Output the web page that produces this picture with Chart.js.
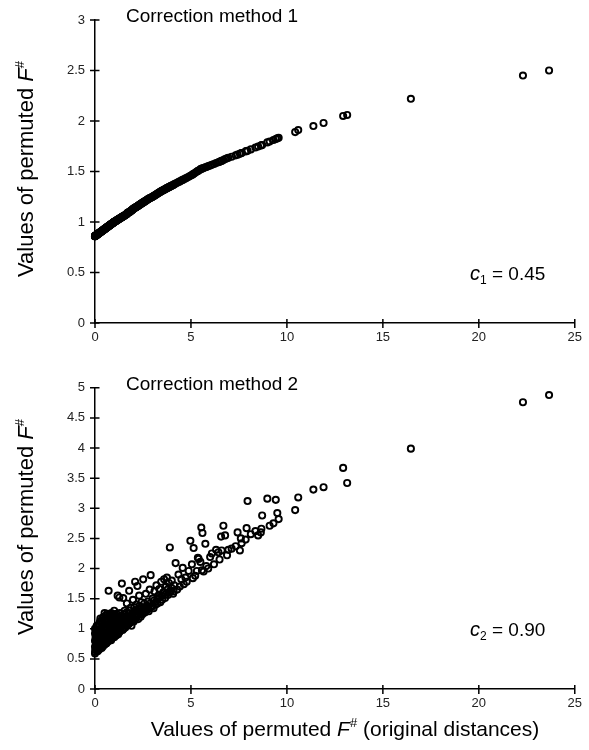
<!DOCTYPE html>
<html><head><meta charset="utf-8">
<script src="https://cdn.jsdelivr.net/npm/chart.js@4.4.0/dist/chart.umd.min.js"></script>
<style>
html,body{margin:0;padding:0;background:#fff;}
#wrap{position:relative;width:589px;height:750px;overflow:hidden;}
#c1{position:absolute;left:0;top:0;}
#c2{position:absolute;left:0;top:370px;}
</style></head><body>
<div id="wrap"><canvas id="c1" width="589" height="370"></canvas><canvas id="c2" width="589" height="380"></canvas></div>
<script>
// permuted F# values computed from the original distances (x)
const distances = [
0,0,0,0,0,0.02,0.03,0.05,0.06,0.08,
0.1,0.11,0.13,0.15,0.16,0.18,0.2,0.21,0.23,0.25,
0.27,0.29,0.3,0.32,0.34,0.36,0.38,0.4,0.42,0.44,
0.46,0.48,0.5,0.52,0.54,0.56,0.58,0.6,0.62,0.64,
0.66,0.68,0.7,0.71,0.73,0.75,0.77,0.8,0.82,0.84,
0.86,0.89,0.91,0.94,0.96,0.99,1.0,1.03,1.06,1.09,
1.12,1.15,1.18,1.21,1.24,1.27,1.3,1.33,1.36,1.4,
1.44,1.47,1.5,1.54,1.58,1.62,1.66,1.7,1.74,1.78,
1.82,1.86,1.9,1.94,1.98,2.02,2.06,2.09,2.13,2.17,
2.21,2.25,2.3,2.34,2.38,2.42,2.47,2.51,2.55,2.6,
2.65,2.7,2.75,2.8,2.85,2.9,2.95,3.0,3.05,3.1,
3.15,3.2,3.25,3.3,3.35,3.4,3.45,3.5,3.55,3.6,
3.65,3.7,3.75,3.8,3.85,3.9,3.95,4.0,4.07,4.13,
4.2,4.28,4.35,4.42,4.5,4.57,4.63,4.71,4.78,4.88,
4.97,5.05,5.1,5.14,5.22,5.31,5.36,5.4,5.49,5.54,
5.57,5.6,5.66,5.75,5.8,5.9,6.0,6.09,6.2,6.31,
6.43,6.49,6.57,6.6,6.69,6.78,6.88,6.95,7.12,7.33,
7.43,7.55,7.6,7.64,7.85,7.9,7.95,8.12,8.36,8.5,
8.64,8.67,8.71,8.98,9.1,9.3,9.42,9.5,9.57,10.43,
10.59,11.38,11.91,12.93,13.14,16.46,22.3,23.66,
0.15,0.35,0.45,0.55,0.79,0.92,1.0,1.07,1.16,1.38,
1.52,1.68,1.88,2.12,2.27,2.44,0.09,0.26,0.5,0.63,
0.01,0.04,0.07,0.12,0.14,0.17,0.19,0.22,0.24,0.28,
0.31,0.33,0.37,0.39,0.41,0.43,0.47,0.49,0.51,0.53,
0.57,0.59,0.61,0.63,0.65,0.67,0.69,0.72,0.74,0.76,
0.78,0.81,0.83,0.85,0.87,0.9,0.93,0.95,0.97,1.01,
1.04,1.08,1.1,1.13,1.17,1.2,1.23,1.26,1.29,1.32,
1.35,1.42,1.46,1.49,1.56,1.6,1.64,1.72,1.76,1.8,
1.84,1.92,1.96,2.0,2.04,2.08,2.15,2.19,2.23,2.32,
2.36,2.4,2.5,2.57,2.63,2.72,2.78,2.88,2.98,3.08,
3.18,3.28,3.38,3.48,3.58,3.68,3.78,3.88,3.98,4.1
];
const method1 = [
0.86,0.86,0.86,0.86,0.86,0.863,0.864,0.867,0.868,0.871,
0.874,0.875,0.878,0.881,0.882,0.885,0.888,0.889,0.892,0.895,
0.898,0.901,0.902,0.905,0.908,0.91,0.913,0.916,0.919,0.922,
0.924,0.927,0.93,0.933,0.936,0.938,0.941,0.944,0.947,0.95,
0.952,0.955,0.958,0.96,0.962,0.965,0.968,0.972,0.975,0.978,
0.98,0.985,0.987,0.992,0.994,0.999,1.0,1.004,1.007,1.011,
1.014,1.018,1.022,1.025,1.029,1.032,1.036,1.04,1.043,1.048,
1.053,1.056,1.06,1.065,1.07,1.075,1.08,1.09,1.093,1.097,
1.103,1.108,1.115,1.12,1.127,1.133,1.138,1.141,1.146,1.151,
1.156,1.161,1.168,1.172,1.178,1.183,1.189,1.194,1.199,1.205,
1.211,1.218,1.224,1.23,1.236,1.24,1.245,1.25,1.256,1.262,
1.268,1.274,1.28,1.286,1.292,1.298,1.304,1.31,1.315,1.32,
1.325,1.33,1.335,1.34,1.345,1.35,1.355,1.36,1.367,1.373,
1.38,1.388,1.395,1.402,1.41,1.417,1.423,1.431,1.438,1.448,
1.457,1.466,1.472,1.478,1.487,1.499,1.505,1.51,1.521,1.526,
1.53,1.53,1.535,1.542,1.545,1.553,1.56,1.567,1.575,1.583,
1.592,1.597,1.603,1.605,1.614,1.623,1.63,1.636,1.646,1.66,
1.667,1.676,1.68,1.683,1.699,1.703,1.706,1.719,1.737,1.748,
1.758,1.76,1.763,1.788,1.797,1.812,1.822,1.828,1.833,1.89,
1.91,1.95,1.98,2.05,2.06,2.22,2.45,2.5,
0.881,0.909,0.923,0.937,0.97,0.988,1.0,1.008,1.019,1.046,
1.062,1.085,1.112,1.145,1.164,1.185,0.872,0.896,0.93,0.948,
0.861,0.866,0.87,0.877,0.88,0.884,0.887,0.891,0.894,0.899,
0.903,0.906,0.912,0.915,0.917,0.92,0.926,0.929,0.931,0.934,
0.94,0.943,0.946,0.948,0.951,0.954,0.957,0.961,0.964,0.967,
0.969,0.974,0.976,0.979,0.982,0.986,0.99,0.993,0.996,1.001,
1.005,1.01,1.012,1.016,1.02,1.024,1.028,1.031,1.035,1.039,
1.042,1.05,1.055,1.059,1.067,1.072,1.077,1.092,1.095,1.1,
1.105,1.117,1.124,1.13,1.135,1.14,1.149,1.154,1.159,1.17,
1.175,1.18,1.193,1.201,1.209,1.22,1.228,1.238,1.248,1.26,
1.272,1.284,1.296,1.308,1.318,1.328,1.338,1.348,1.358,1.37
];
const method2 = [
0.59,0.70,0.80,0.92,1.00,0.65,0.86,0.75,0.96,0.68,
0.82,1.03,0.63,0.90,0.72,0.97,0.78,1.08,0.66,0.88,
0.71,1.0,0.84,0.69,1.14,0.93,0.77,1.05,0.71,0.86,
1.2,0.98,0.74,0.81,1.1,0.91,1.22,0.76,1.02,0.85,
1.16,0.79,0.95,1.63,1.08,0.83,1.24,0.89,1.0,0.81,
1.18,0.94,1.06,0.86,1.21,0.98,1.3,0.88,1.12,0.92,
1.25,1.02,1.55,0.91,1.16,1.52,0.96,1.08,1.22,1.75,
0.98,1.51,1.13,1.3,1.02,1.2,1.42,1.06,1.26,1.63,
1.1,1.35,1.05,1.18,1.48,1.12,1.3,1.78,1.2,1.4,
1.71,1.16,1.55,1.27,1.2,1.44,1.24,1.82,1.35,1.27,
1.58,1.31,1.45,1.29,1.65,1.89,1.36,1.5,1.34,1.62,
1.4,1.72,1.42,1.55,1.66,1.44,1.78,1.48,1.6,1.82,
1.51,1.7,1.85,1.56,1.76,2.35,1.62,1.8,1.58,1.72,
2.09,1.65,1.9,1.7,1.82,2.01,1.74,1.85,1.78,1.96,
2.46,2.07,1.84,2.34,1.88,1.96,2.18,2.16,2.11,2.68,
1.97,2.59,1.95,2.41,2.04,2.0,2.19,2.25,2.07,2.31,
2.27,2.15,2.53,2.3,2.71,2.55,2.22,2.31,2.33,2.37,
2.6,2.3,2.5,2.42,2.48,2.67,3.12,2.57,2.62,2.55,
2.6,2.66,2.88,3.16,2.71,2.75,3.14,2.92,2.82,2.97,
3.18,3.31,3.35,3.67,3.42,3.99,4.76,4.88,
0.63,0.68,1.01,0.75,0.82,1.13,0.86,1.19,1.09,1.15,
1.24,1.17,1.22,1.25,1.33,1.3,1.05,1.12,1.26,0.98,
0.62,0.78,0.9,0.74,0.99,0.67,0.85,0.94,0.76,1.17,
0.8,0.96,0.72,0.89,1.18,0.79,0.94,1.13,0.87,1.04,
0.8,1.14,0.92,1.25,0.88,1.06,0.84,1.19,0.92,1.03,
0.86,1.14,0.95,1.26,0.88,1.0,1.24,0.9,1.09,0.95,
1.23,1.0,0.89,1.12,0.94,1.2,1.05,0.94,1.26,1.0,
1.12,1.04,1.2,1.0,1.1,1.05,1.27,1.13,1.08,1.3,
1.16,1.12,1.26,1.15,1.36,1.22,1.18,1.3,1.24,1.38,
1.25,1.33,1.28,1.42,1.33,1.38,1.33,1.42,1.38,1.47,
1.45,1.5,1.52,1.55,1.6,1.57,1.65,1.6,1.68,1.62
];
const xTicks = [0, 5, 10, 15, 20, 25];
const yTicksTop = [0, 0.5, 1, 1.5, 2, 2.5, 3];
const yTicksBottom = [0, 0.5, 1, 1.5, 2, 2.5, 3, 3.5, 4, 4.5, 5];
const panelTitles = ['Correction method 1', 'Correction method 2'];
const constSymbols = ['c', 'c'];
const constSubs = ['1', '2'];
const constValues = ['0.45', '0.90'];
const axisTitleMain = 'Values of permuted ';
const axisTitleVar = 'F';
const axisTitleSup = '#';
const xTitleTail = ' (original distances)';

const FONT = '"Liberation Sans", Arial, Helvetica, sans-serif';

function segWidth(ctx, segs) {
  let w = 0;
  for (const s of segs) {
    ctx.font = (s.italic ? 'italic ' : '') + s.size + 'px ' + FONT;
    w += ctx.measureText(s.t).width;
  }
  return w;
}
function drawRich(ctx, x, y, segs) {
  let cx = x;
  for (const s of segs) {
    ctx.font = (s.italic ? 'italic ' : '') + s.size + 'px ' + FONT;
    ctx.fillText(s.t, cx, y + (s.dy || 0));
    cx += ctx.measureText(s.t).width;
  }
}

const decor = {
  id: 'decor',
  afterDraw(chart) {
    const idx = chart.options.plugins.decor.idx;
    const ctx = chart.ctx;
    const ca = chart.chartArea;
    const xs = chart.scales.x, ys = chart.scales.y;
    ctx.save();
    // crossing tick marks
    ctx.strokeStyle = '#000';
    ctx.lineWidth = 1.5;
    ctx.beginPath();
    xTicks.forEach(v => {
      const px = xs.getPixelForValue(v);
      ctx.moveTo(px, ca.bottom - 4); ctx.lineTo(px, ca.bottom + 5);
    });
    (idx === 0 ? yTicksTop : yTicksBottom).forEach(v => {
      const py = ys.getPixelForValue(v);
      ctx.moveTo(ca.left - 5, py); ctx.lineTo(ca.left + 4.5, py);
    });
    ctx.stroke();

    ctx.fillStyle = '#000';
    ctx.textBaseline = 'alphabetic';
    ctx.textAlign = 'left';
    // panel title
    ctx.font = '19px ' + FONT;
    ctx.fillText(panelTitles[idx], 126, idx === 0 ? 22 : 20);
    // constant annotation
    drawRich(ctx, 470, idx === 0 ? 280 : 266, [
      {t: constSymbols[idx], size: 20, italic: true},
      {t: constSubs[idx], size: 12, dy: 4},
      {t: ' = ' + constValues[idx], size: 19}
    ]);
    // y axis title (rotated)
    const ySegs = [
      {t: axisTitleMain, size: 22},
      {t: axisTitleVar, size: 22, italic: true},
      {t: axisTitleSup, size: 13, dy: -9}
    ];
    const yw = segWidth(ctx, ySegs);
    ctx.save();
    ctx.translate(33, idx === 0 ? 169 : 157);
    ctx.rotate(-Math.PI / 2);
    drawRich(ctx, -yw / 2, 0, ySegs);
    ctx.restore();
    // x axis title (bottom panel only)
    if (idx === 1) {
      const xSegs = [
        {t: axisTitleMain, size: 21},
        {t: axisTitleVar, size: 21, italic: true},
        {t: axisTitleSup, size: 13, dy: -9},
        {t: xTitleTail, size: 21}
      ];
      const xw = segWidth(ctx, xSegs);
      drawRich(ctx, 345 - xw / 2, 366, xSegs);
    }
    ctx.restore();
  }
};

function makeChart(canvas, values, yTicks, idx) {
  const pts = distances.map((d, i) => ({x: d, y: values[i]}));
  return new Chart(canvas, {
    type: 'scatter',
    data: {datasets: [{
      data: pts,
      pointStyle: 'circle',
      pointRadius: 3.1,
      pointHoverRadius: 3.1,
      pointBorderWidth: 1.9,
      borderWidth: 1.9,
      pointBorderColor: '#000',
      borderColor: '#000',
      pointBackgroundColor: 'rgba(0,0,0,0)',
      backgroundColor: 'rgba(0,0,0,0)',
      clip: false
    }]},
    options: {
      responsive: false,
      animation: false,
      devicePixelRatio: 1,
      events: [],
      layout: {padding: {top: idx === 0 ? 20 : 15, right: 10, left: 0, bottom: 0}},
      plugins: {legend: {display: false}, tooltip: {enabled: false}, decor: {idx: idx}},
      scales: {
        x: {
          type: 'linear', min: 0, max: 25,
          grid: {display: false, drawTicks: false},
          border: {display: true, color: '#000', width: 1.5},
          ticks: {color: '#222', font: {family: FONT, size: 13}, padding: 7, autoSkip: false, maxRotation: 0,
                  callback: v => String(v)},
          afterBuildTicks: s => { s.ticks = xTicks.map(v => ({value: v})); },
          afterFit: s => { s.height = idx === 0 ? 47 : 61; }
        },
        y: {
          type: 'linear', min: 0, max: yTicks[yTicks.length - 1],
          grid: {display: false, drawTicks: false},
          border: {display: true, color: '#000', width: 1.5},
          ticks: {color: '#222', font: {family: FONT, size: 13}, padding: 10, autoSkip: false,
                  callback: v => String(v)},
          afterBuildTicks: s => { s.ticks = yTicks.map(v => ({value: v})); },
          afterFit: s => { s.width = 95; }
        }
      }
    },
    plugins: [decor]
  });
}

makeChart(document.getElementById('c1'), method1, yTicksTop, 0);
makeChart(document.getElementById('c2'), method2, yTicksBottom, 1);
</script>
</body></html>
